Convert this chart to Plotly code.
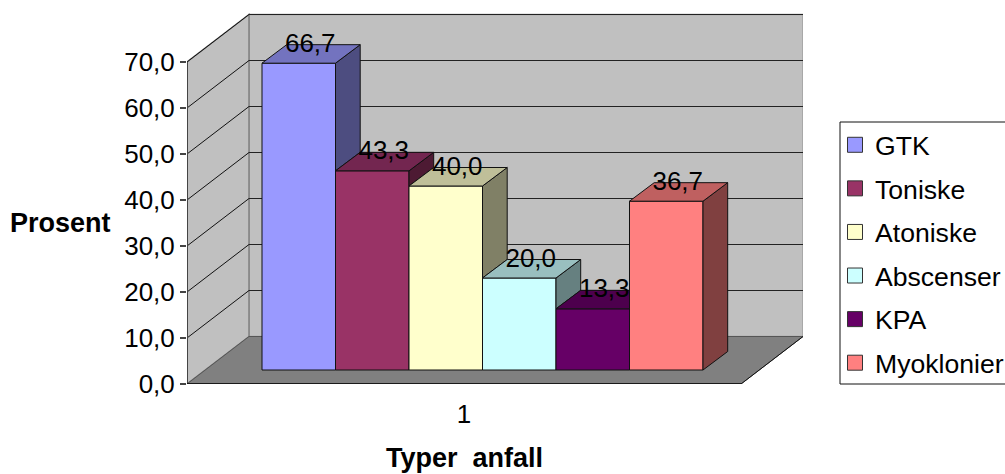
import plotly.graph_objects as go

# --- data ---
series_names = ["GTK", "Toniske", "Atoniske", "Abscenser", "KPA", "Myoklonier"]
series_values = [66.7, 43.3, 40.0, 20.0, 13.3, 36.7]
value_labels = ["66,7", "43,3", "40,0", "20,0", "13,3", "36,7"]
front_colors = ["#9999FF", "#993366", "#FFFFCC", "#CCFFFF", "#660066", "#FF8080"]
top_colors = ["#7373BF", "#732650", "#BFBF99", "#99BFBF", "#4D004D", "#BF6060"]
side_colors = ["#4D4D80", "#4D1A33", "#808066", "#668080", "#330033", "#804040"]
y_ticks = [0, 10, 20, 30, 40, 50, 60, 70]
y_tick_labels = ["0,0", "10,0", "20,0", "30,0", "40,0", "50,0", "60,0", "70,0"]
category_label = "1"

# --- layout geometry ---
W, H = 1005, 474
PX_PER_UNIT = 4.6
Y0 = 384
XL, XR = 187, 803
FLOOR_R = 741
WALL_X = 249
WALL_UP = 47.5 / PX_PER_UNIT
BAR_LEFT = 262
BAR_W = 73.5
BAR_BASE = 14 / PX_PER_UNIT
DX = 24.7
DY = 18.5 / PX_PER_UNIT
LABEL_DX = 11.5
LABEL_DY = 18 / PX_PER_UNIT
INK = "#111111"

shapes = []


def poly(xs, ys, fill, line="#808080", width=1):
    path = "M" + "L".join(f"{x},{y}" for x, y in zip(xs, ys)) + "Z"
    shapes.append(dict(type="path", path=path, xref="x", yref="y", layer="below",
                       fillcolor=fill, line=dict(color=line, width=width)))


def seg(x0, y0, x1, y1, color=INK, width=1):
    shapes.append(dict(type="line", x0=x0, y0=y0, x1=x1, y1=y1, xref="x", yref="y",
                       layer="below", line=dict(color=color, width=width)))


top = max(y_ticks)
poly([WALL_X, XR, XR, WALL_X], [WALL_UP, WALL_UP, top + WALL_UP, top + WALL_UP], "#C0C0C0", "#A0A0A0", 1.5)
poly([XL, WALL_X, WALL_X, XL], [0, WALL_UP, top + WALL_UP, top], "#C0C0C0", "#808080", 1.5)
poly([XL, FLOOR_R, XR, WALL_X], [0, 0, WALL_UP, WALL_UP], "#808080", "#555555", 1)
for t in y_ticks[1:]:
    seg(XL, t, WALL_X, t + WALL_UP)
    seg(WALL_X, t + WALL_UP, XR, t + WALL_UP, "#222222", 1.2)
seg(FLOOR_R, 0, XR, WALL_UP)

# legend box (its right edge falls outside the page, as in the reference)
shapes.append(dict(type="rect", xref="paper", yref="paper", x0=840 / W, x1=1.02, y0=1 - 384 / H, y1=1 - 122 / H,
                   layer="below", fillcolor="white", line=dict(color="#111111", width=1)))

fig = go.Figure()

# front faces
lefts = [BAR_LEFT + i * BAR_W for i in range(len(series_values))]
for name, v, l, c in zip(series_names, series_values, lefts, front_colors):
    fig.add_trace(go.Bar(x=[l + BAR_W / 2], y=[v], base=BAR_BASE, width=BAR_W, name=name,
                         marker=dict(color=c, line=dict(color=INK, width=1)), showlegend=False))

# side and top faces, painted left to right
for i, (v, l) in enumerate(zip(series_values, lefts)):
    r = l + BAR_W
    nxt = series_values[i + 1] if i + 1 < len(series_values) else 0
    yt = v + BAR_BASE
    yn = nxt + BAR_BASE
    if nxt < v:
        fig.add_trace(go.Scatter(x=[r, r + DX, r + DX, r, r], y=[yt, yt + DY, yn + DY, yn, yt],
                                 fill="toself", fillcolor=side_colors[i], mode="lines",
                                 line=dict(color=INK, width=1), showlegend=False))
        xs = [l, r, r + DX, l + DX, l]
        ys = [yt, yt, yt + DY, yt + DY, yt]
    else:
        xs = [l, r, r, l + DX, l]
        ys = [yt, yt, yt + DY, yt + DY, yt]
    fig.add_trace(go.Scatter(x=xs, y=ys, fill="toself", fillcolor=top_colors[i], mode="lines",
                             line=dict(color=INK, width=1), showlegend=False))

# value labels
fig.add_trace(go.Scatter(
    x=[l + BAR_W / 2 + LABEL_DX for l in lefts],
    y=[v + BAR_BASE + LABEL_DY for v in series_values],
    text=value_labels, mode="text", textposition="middle center",
    textfont=dict(size=26, color="#000000"), showlegend=False, cliponaxis=False))

# axis lines
fig.add_trace(go.Scatter(x=[XL, XL], y=[-2.4, top], mode="lines", line=dict(color="#444444", width=2),
                         showlegend=False, cliponaxis=False))
fig.add_trace(go.Scatter(x=[XL, FLOOR_R], y=[0, 0], mode="lines", line=dict(color="#000000", width=1.5),
                         showlegend=False, cliponaxis=False))
fig.add_trace(go.Scatter(x=[FLOOR_R, FLOOR_R], y=[0, -1.6], mode="lines", line=dict(color="#333333", width=1),
                         showlegend=False, cliponaxis=False))

# legend entries
for name, c in zip(series_names, front_colors):
    fig.add_trace(go.Scatter(x=[None], y=[None], name=name, legendgroup=name, mode="markers",
                             marker=dict(symbol="square", size=15, color=c, line=dict(color="#333333", width=1))))

fig.update_layout(
    width=W, height=H, autosize=False,
    margin=dict(l=0, r=0, t=0, b=0, autoexpand=False),
    paper_bgcolor="white", plot_bgcolor="rgba(0,0,0,0)",
    font=dict(family="Liberation Sans, Arial, sans-serif", size=26, color="#000000"),
    shapes=shapes,
    barmode="overlay",
    xaxis=dict(domain=[XL / W, XR / W], range=[XL, XR], showgrid=False, zeroline=False, showline=False,
               tickmode="array", tickvals=[464], ticktext=[category_label], ticks="",
               tickfont=dict(size=26), ticklabelstandoff=12),
    yaxis=dict(domain=[(H - Y0) / H, 1], range=[0, Y0 / PX_PER_UNIT], showgrid=False, zeroline=False,
               showline=False, tickmode="array", tickvals=y_ticks, ticktext=y_tick_labels,
               ticks="outside", ticklen=6, tickwidth=1.5, tickcolor="#444444", tickfont=dict(size=26)),
    annotations=[
        dict(text="<b>Prosent</b>", xref="paper", yref="paper", x=60 / W, y=1 - 223 / H,
             showarrow=False, font=dict(size=27), xanchor="center", yanchor="middle"),
        dict(text="<b>Typer\u00a0 anfall</b>", xref="paper", yref="paper", x=464 / W, y=1 - 458 / H,
             showarrow=False, font=dict(size=27), xanchor="center", yanchor="middle"),
    ],
    legend=dict(x=835 / W, xanchor="left", y=1 - 121 / H, yanchor="top", bgcolor="rgba(0,0,0,0)",
                borderwidth=0, tracegroupgap=6,
                entrywidth=129, entrywidthmode="pixels", font=dict(size=26.6)),
)

fig.write_html("out.html", config=dict(displayModeBar=False),
               post_script="document.body.style.margin='0';")
